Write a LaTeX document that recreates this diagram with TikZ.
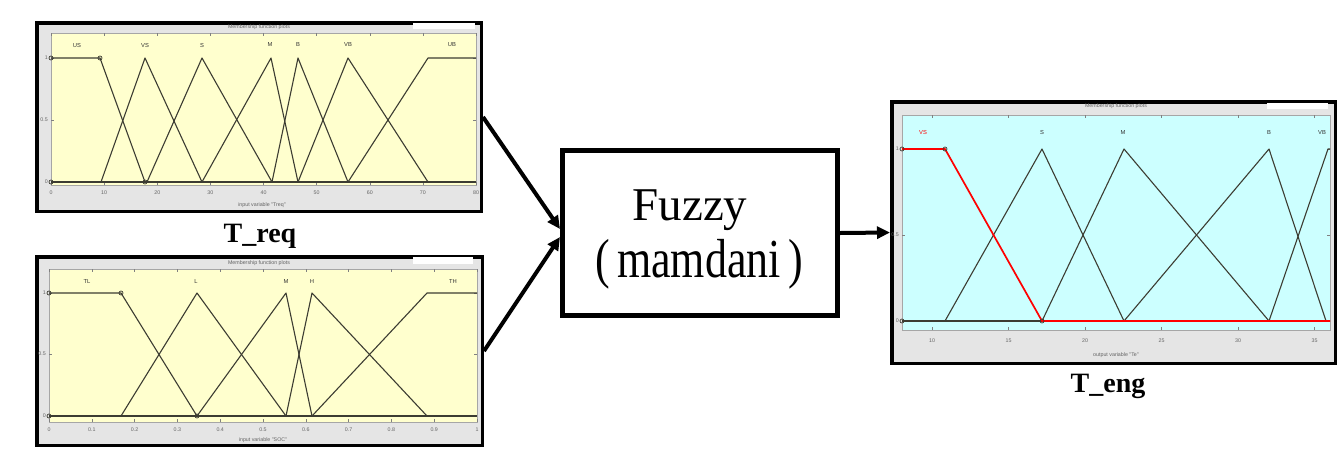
\documentclass[tikz,border=0pt]{standalone}
\usepackage{fontspec}
\usepackage{graphicx}
\setmainfont{Liberation Serif}
\newfontfamily\plotfont{Liberation Sans}
\usetikzlibrary{arrows.meta}
\definecolor{panelgray}{RGB}{229,229,229}
\definecolor{plotyellow}{RGB}{255,255,206}
\definecolor{plotcyan}{RGB}{204,255,255}
\definecolor{mfline}{RGB}{60,60,50}
\definecolor{tinytext}{RGB}{100,100,100}
\begin{document}
\begin{tikzpicture}[x=1pt,y=-1pt,
  panel/.style={draw=black, line width=3.5pt, fill=panelgray, rectangle, inner sep=0pt},
  fuzzybox/.style={draw=black, line width=5pt, fill=white, rectangle, inner sep=0pt, minimum width=275pt, minimum height=165pt},
  flow/.style={line width=4pt, -{Triangle[length=13pt,width=12pt]}},
  mf/.style={draw=mfline, line width=1.1pt, line join=round},
  mfsel/.style={draw=red, line width=1.7pt, line join=round},
  tiny/.style={font=\plotfont\fontsize{5.3}{6}\selectfont, text=tinytext, inner sep=0pt},
  mflabel/.style={font=\plotfont\fontsize{5.8}{7}\selectfont, text=black!80, inner sep=0pt},
  caption/.style={font=\bfseries\fontsize{28}{32}\selectfont, inner sep=0pt, anchor=base},
  bigtext/.style={inner sep=0pt, anchor=base},
  marker/.style={draw=mfline, line width=0.7pt},
  tick/.style={draw=gray, line width=0.4pt},
]
\useasboundingbox (0,0) rectangle (1339,448);

% ---------------- top panel: T_req ----------------
\node[panel, minimum width=444.5pt, minimum height=188.5pt] (treq) at (259,117) {};
\fill[white] (413,23) rectangle (475,29);
\node[tiny] (treqtitle) at (259,27) {Membership function plots};
\filldraw[fill=plotyellow, draw=gray!70, line width=0.4pt] (51,33) rectangle (476,185);
\foreach \k in {0,...,8} {
  \pgfmathsetmacro\xx{51+\k*53.125}
  \pgfmathtruncatemacro\lab{\k*10}
  \draw[tick] (\xx,33) -- ++(0,3);
  \draw[tick] (\xx,185) -- ++(0,-3);
  \node[tiny] (treqx\k) at (\xx,193) {\lab};
}
\foreach \yy/\lab/\nm in {58/1/a,120/0.5/b,182/0/c} {
  \draw[tick] (51,\yy) -- ++(3,0);
  \draw[tick] (476,\yy) -- ++(-3,0);
  \node[tiny, anchor=east] (treqy\nm) at (48,\yy) {\lab};
}
\node[tiny] (treqaxis) at (262,205) {input variable "Treq"};
\draw[mf] (51,182) -- (476,182);
\draw[mf] (51,58) -- (100,58) -- (145,182);
\draw[mf] (101,182) -- (145,58) -- (202,182);
\draw[mf] (147,182) -- (202,58) -- (272,182);
\draw[mf] (202,182) -- (271,58) -- (298,182);
\draw[mf] (272,182) -- (298,58) -- (348,182);
\draw[mf] (298,182) -- (348,58) -- (428,182);
\draw[mf] (348,182) -- (428,58) -- (476,58);
\foreach \px/\py in {51/58,100/58,145/182,51/182} \draw[marker] (\px,\py) circle (2pt);
\node[mflabel] (treqUS) at (77,45) {US};
\node[mflabel] (treqVS) at (145,45) {VS};
\node[mflabel] (treqS)  at (202,45) {S};
\node[mflabel] (treqM)  at (270,45) {M};
\node[mflabel] (treqB)  at (298,45) {B};
\node[mflabel] (treqVB) at (348,45) {VB};
\node[mflabel] (treqUB) at (452,45) {UB};
\node[caption] (treqcap) at (260,242) {T\_req};

% ---------------- bottom panel: SOC ----------------
\node[panel, minimum width=445.5pt, minimum height=188.5pt] (soc) at (259.5,351) {};
\fill[white] (413,257) rectangle (473,264);
\node[tiny] (soctitle) at (259,263) {Membership function plots};
\filldraw[fill=plotyellow, draw=gray!70, line width=0.4pt] (49,269) rectangle (477,422);
\foreach \k/\lab in {0/0,1/0.1,2/0.2,3/0.3,4/0.4,5/0.5,6/0.6,7/0.7,8/0.8,9/0.9,10/1} {
  \pgfmathsetmacro\xx{49+\k*42.8}
  \draw[tick] (\xx,269) -- ++(0,3);
  \draw[tick] (\xx,422) -- ++(0,-3);
  \node[tiny] (socx\k) at (\xx,430) {\lab};
}
\foreach \yy/\lab/\nm in {293/1/a,354/0.5/b,416/0/c} {
  \draw[tick] (49,\yy) -- ++(3,0);
  \draw[tick] (477,\yy) -- ++(-3,0);
  \node[tiny, anchor=east] (socy\nm) at (46,\yy) {\lab};
}
\node[tiny] (socaxis) at (263,440) {input variable "SOC"};
\draw[mf] (49,416) -- (477,416);
\draw[mf] (49,293) -- (121,293) -- (197,416);
\draw[mf] (121,416) -- (197,293) -- (286,416);
\draw[mf] (197,416) -- (286,293) -- (312,416);
\draw[mf] (286,416) -- (312,293) -- (427,416);
\draw[mf] (312,416) -- (427,293) -- (477,293);
\foreach \px/\py in {49/293,121/293,197/416,49/416} \draw[marker] (\px,\py) circle (2pt);
\node[mflabel] (socTL) at (87,281) {TL};
\node[mflabel] (socL)  at (196,281) {L};
\node[mflabel] (socM)  at (286,281) {M};
\node[mflabel] (socH)  at (312,281) {H};
\node[mflabel] (socTH) at (453,281) {TH};

% ---------------- fuzzy block ----------------
\node[fuzzybox] (fuzzy) at (700,233) {};
\node[bigtext, font=\fontsize{47}{52}\selectfont] (fuzzyword) at (690,220) {Fuzzy};
\node[bigtext, font=\fontsize{44}{50}\selectfont] (mamdani) at (699,277) {\scalebox{1}[1.25]{(\,mamdani\,)}};

% ---------------- right panel: T_eng ----------------
\node[panel, minimum width=443.5pt, minimum height=261.5pt] (teng) at (1113.5,232.5) {};
\fill[white] (1267,103) rectangle (1328,109);
\node[tiny] (tengtitle) at (1116,106) {Membership function plots};
\filldraw[fill=plotcyan, draw=gray!70, line width=0.4pt] (902,115) rectangle (1330,330);
\foreach \k/\lab in {0/10,1/15,2/20,3/25,4/30,5/35} {
  \pgfmathsetmacro\xx{932+\k*76.5}
  \draw[tick] (\xx,115) -- ++(0,3);
  \draw[tick] (\xx,330) -- ++(0,-3);
  \node[tiny] (tengx\k) at (\xx,341) {\lab};
}
\foreach \yy/\lab/\nm in {149/1/a,235/0.5/b,321/0/c} {
  \draw[tick] (902,\yy) -- ++(3,0);
  \draw[tick] (1330,\yy) -- ++(-3,0);
  \node[tiny, anchor=east] (tengy\nm) at (899,\yy) {\lab};
}
\node[tiny] (tengaxis) at (1116,355) {output variable "Te"};
\draw[mf] (902,321) -- (1330,321);
\draw[mf] (945,321) -- (1042,149) -- (1124,321);
\draw[mf] (1042,321) -- (1124,149) -- (1269,321);
\draw[mf] (1124,321) -- (1269,149) -- (1326,321);
\draw[mf] (1269,321) -- (1328,149) -- (1330,149);
\draw[mfsel] (902,149) -- (945,149) -- (1042,321) -- (1330,321);
\foreach \px/\py in {902/149,945/149,1042/321,902/321} \draw[marker] (\px,\py) circle (2pt);
\node[mflabel, text=red] (tengVS) at (923,132) {VS};
\node[mflabel] (tengS)  at (1042,132) {S};
\node[mflabel] (tengM)  at (1123,132) {M};
\node[mflabel] (tengB)  at (1269,132) {B};
\node[mflabel] (tengVB) at (1322,132) {VB};
\node[caption] (tengcap) at (1108,392) {T\_eng};

% ---------------- connectors ----------------
\draw[flow] (treq.east) -- ([yshift=4pt]fuzzy.west);
\draw[flow] (soc.east) -- ([yshift=-4pt]fuzzy.west);
\draw[flow] (fuzzy.east) -- (teng.west);
\end{tikzpicture}
\end{document}
